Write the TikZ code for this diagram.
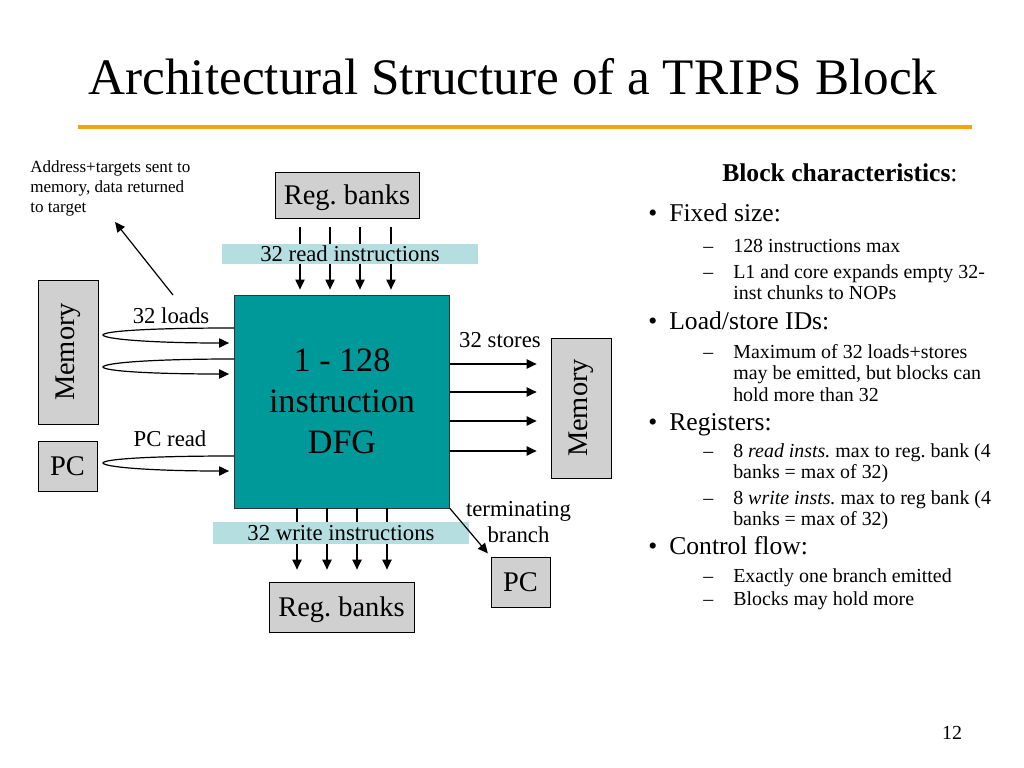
\documentclass[tikz,border=0pt]{standalone}
\usepackage{fontspec}
\setmainfont{Liberation Serif}
\usetikzlibrary{arrows.meta,calc}
\frenchspacing
\def\u{0.703125pt}
\definecolor{slideorange}{RGB}{250,160,20}
\definecolor{dfgteal}{RGB}{0,153,153}
\definecolor{bandblue}{RGB}{181,222,225}
\definecolor{boxgray}{RGB}{208,208,208}
\newcommand{\fs}[2]{\fontsize{#1}{#2}\selectfont}
\newcommand{\bulmark}{\makebox[14.8pt][l]{•}}
\newcommand{\dashmark}{\makebox[21.1pt][l]{–}}
\tikzset{
  grayblock/.style={
    rectangle, draw=black, line width=0.6pt, fill=boxgray, inner sep=0pt, text depth=0pt
  },
  %
  band/.style={
    rectangle, fill=bandblue, inner sep=0pt, font=\fs{16}{19.2}
  },
  %
  flow/.style={
    -{Triangle[length=7pt,width=6.5pt]}, line width=0.85pt
  },
  %
  lbl/.style={
    inner sep=0pt, anchor=base, font=\fs{16}{19.2}
  },
  %
  bul/.style={
    inner sep=0pt, anchor=base west, font=\fs{18}{21.6}
  },
  %
  subitem/.style={
    inner sep=0pt, anchor=base west, font=\fs{14}{16.8}
  }
}

\begin{document}
\begin{tikzpicture}[x=\u, y=-\u]
\useasboundingbox (0,0) rectangle (1024,768);

\node(title)[anchor=base, inner sep=0pt, font=\fs{36}{43.2}] at (513,95) {Architectural Structure of a TRIPS Block};
\draw[slideorange, line width=2.2pt] (78,127) -- (972,127);

% block and its neighbours
\node(regtop)[grayblock, minimum width=144*\u, minimum height=46*\u, font=\fs{20}{24}] at (347,195) {Reg. banks};
\node(dfg)[rectangle, draw=black!80, fill=dfgteal, line width=0.6pt, minimum width=215*\u, minimum height=213*\u, align=center, font=\fs{24}{28.8}] at (342,401.5) {1 - 128\\instruction\\DFG};
\node(memL)[grayblock, minimum width=60*\u, minimum height=144*\u] at (68,352) {};
\node(memLtxt)[rotate=90, inner sep=0pt, font=\fs{20}{24}] at (memL.center) {Memory};
\node(pcL)[grayblock, minimum width=59*\u, minimum height=50*\u, font=\fs{20}{24}] at (67.5,466) {PC};
\node(memR)[grayblock, minimum width=60*\u, minimum height=140*\u] at (581,408) {};
\node(memRtxt)[rotate=90, inner sep=0pt, font=\fs{20}{24}] at (memR.center) {Memory};
\node(regbot)[grayblock, minimum width=145*\u, minimum height=50*\u, font=\fs{20}{24}] at (341.5,607) {Reg. banks};
\node(pcR)[grayblock, minimum width=59*\u, minimum height=50*\u, font=\fs{20}{24}] at (520.5,582) {PC};

% register reads and writes
\foreach \x in {300,330,360,391}
  \draw[flow, shorten <=6pt, shorten >=3.5pt] (\x,0 |- regtop.south) -- (\x,0 |- dfg.north);
\foreach \x in {297,327,357,387}
  \draw[flow, shorten >=8.4pt] (\x,0 |- dfg.south) -- (\x,0 |- regbot.north);
\node(readband)[band, minimum width=256*\u, minimum height=20*\u] at (350,254) {32 read instructions};
\node(writeband)[band, minimum width=256*\u, minimum height=22*\u] at (341,533) {32 write instructions};

% loads and PC read
\draw[flow, shorten >=3.5pt] (dfg.west |- 0,328) .. controls (150,328) and (104,331) .. (103,335) .. controls (104,339) and (150,343) .. (dfg.west |- 0,343);
\draw[flow, shorten >=3.5pt] (dfg.west |- 0,359) .. controls (150,359) and (104,363) .. (103,367) .. controls (104,371) and (150,374) .. (dfg.west |- 0,374);
\draw[flow, shorten >=3.5pt] (dfg.west |- 0,456) .. controls (150,456) and (104,459) .. (103,463) .. controls (104,467) and (150,471) .. (dfg.west |- 0,471);
\node(loadslbl)[lbl] at (171,323) {32 loads};
\node(pcreadlbl)[lbl] at (170,446) {PC read};

% stores
\foreach \y in {364,392,421,451}
  \draw[flow, shorten >=9.8pt] (dfg.east |- 0,\y) -- (memR.west |- 0,\y);
\node(storeslbl)[lbl] at (500,348) {32 stores};

% branch
\draw[flow, shorten >=3pt] (dfg.south east) -- (pcR.north west);
\node(termlbl)[inner sep=0pt, align=center, font=\fs{16}{18.3}] at (518.5,522) {terminating\\branch};

% address note
\node(addr)[anchor=north west, inner sep=0pt, align=left, font=\fs{12}{14.2}] at (30,160) {Address+targets sent to\\memory, data returned\\to target};
\coordinate(addrfoot) at (173,295);
\coordinate(addrtip) at (115,222);
\draw[flow] (addrfoot) -- (addrtip);

% block characteristics
\node(bchead)[bul] at (722,182) {\textbf{Block characteristics}:};
\node(fixed)[bul] at (648,222) {\bulmark Fixed size:};
\node(fixedA)[subitem] at (703,253) {\dashmark 128 instructions max};
\node(fixedB)[subitem] at (703,279) {\dashmark L1 and core expands empty 32-};
\node(fixedBb)[subitem] at (733,300) {inst chunks to NOPs};
\node(ldst)[bul] at (648,330) {\bulmark Load/store IDs:};
\node(ldstA)[subitem] at (703,358) {\dashmark Maximum of 32 loads+stores};
\node(ldstAb)[subitem] at (733,379) {may be emitted, but blocks can};
\node(ldstAc)[subitem] at (733,401) {hold more than 32};
\node(regs)[bul] at (648,430) {\bulmark Registers:};
\node(regsA)[subitem] at (703,457) {\dashmark 8 \textit{read insts.} max to reg. bank (4};
\node(regsAb)[subitem] at (733,478) {banks = max of 32)};
\node(regsB)[subitem] at (703,504) {\dashmark 8 \textit{write insts.} max to reg bank (4};
\node(regsBb)[subitem] at (733,525) {banks = max of 32)};
\node(ctrl)[bul] at (648,554) {\bulmark Control flow:};
\node(ctrlA)[subitem] at (703,582) {\dashmark Exactly one branch emitted};
\node(ctrlB)[subitem] at (703,605) {\dashmark Blocks may hold more};

\node(pagenum)[anchor=base, inner sep=0pt, font=\fs{14}{16.8}] at (952,739) {12};

\end{tikzpicture}
\end{document}
